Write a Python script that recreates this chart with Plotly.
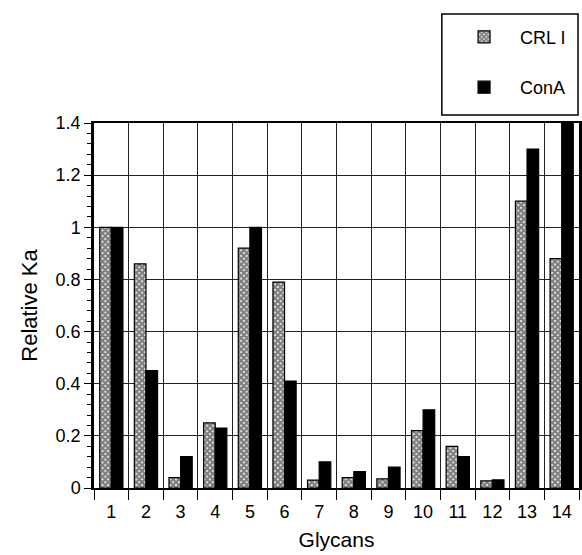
import plotly.graph_objects as go

glycans = list(range(1, 15))
tick_labels = [str(g) for g in glycans]
crl_values = [1.00, 0.86, 0.04, 0.25, 0.92, 0.79, 0.03, 0.04, 0.035, 0.22, 0.16, 0.027, 1.10, 0.88]
cona_values = [1.00, 0.45, 0.12, 0.23, 1.00, 0.41, 0.10, 0.063, 0.08, 0.30, 0.12, 0.031, 1.30, 1.45]
series_names = ["CRL I", "ConA"]

FONT = "Liberation Sans, Arial, Helvetica, sans-serif"

fig = go.Figure()
fig.add_trace(go.Bar(
    x=glycans, y=crl_values, name=series_names[0], legendgroup="a",
    marker=dict(color="white", line=dict(color="black", width=1.2),
                pattern=dict(shape="x", fgcolor="black", bgcolor="white", size=4, solidity=0.8)),
))
fig.add_trace(go.Bar(
    x=glycans, y=cona_values, name=series_names[1], legendgroup="b",
    marker=dict(color="black", line=dict(color="black", width=1.2)),
))

# legend frame (decoration)
fig.add_shape(type="rect", xref="paper", yref="paper",
              x0=0.7172, x1=0.998, y0=1.0219, y1=1.2986,
              line=dict(color="black", width=1.5), fillcolor="rgba(0,0,0,0)")

fig.update_layout(
    width=582, height=555,
    margin=dict(l=94, r=0, t=123, b=67),
    paper_bgcolor="white", plot_bgcolor="white",
    barmode="group", bargap=0.33, bargroupgap=0,
    font=dict(family=FONT, size=18, color="black"),
    showlegend=True,
    legend=dict(x=0.73, y=1.286, xanchor="left", yanchor="top",
                borderwidth=0, bgcolor="rgba(0,0,0,0)",
                font=dict(size=18), itemwidth=62, tracegroupgap=24,
                traceorder="grouped"),
    xaxis=dict(
        range=[0.5, 14.5], tickvals=glycans, ticktext=tick_labels,
        showgrid=False, ticks="outside", ticklen=6, tickcolor="rgba(0,0,0,0)",
        showline=True, linecolor="black", linewidth=2, mirror=True,
        zeroline=False,
        minor=dict(tickvals=[g - 0.5 for g in glycans] + [14.5], showgrid=True, gridcolor="#222",
                   gridwidth=1.3, ticks="outside", ticklen=10, tickcolor="black", tickwidth=1.3),
        title=dict(text="Glycans", font=dict(size=21), standoff=12),
        tickfont=dict(size=18),
    ),
    yaxis=dict(
        range=[0, 1.4], dtick=0.2, tickformat="~g",
        showgrid=True, gridcolor="#222", gridwidth=1.3,
        ticks="outside", ticklen=7, tickcolor="black", tickwidth=1.2,
        showline=True, linecolor="black", linewidth=2.5, mirror=True, zeroline=False,
        minor=dict(dtick=0.04, ticks="outside", ticklen=4, tickcolor="black", tickwidth=1, showgrid=False),
        title=dict(text="Relative Ka", font=dict(size=22), standoff=12),
        tickfont=dict(size=18),
    ),
)

fig.write_html("out.html", config={"displayModeBar": False},
               post_script="document.body.style.margin='0';document.body.style.overflow='hidden';")
